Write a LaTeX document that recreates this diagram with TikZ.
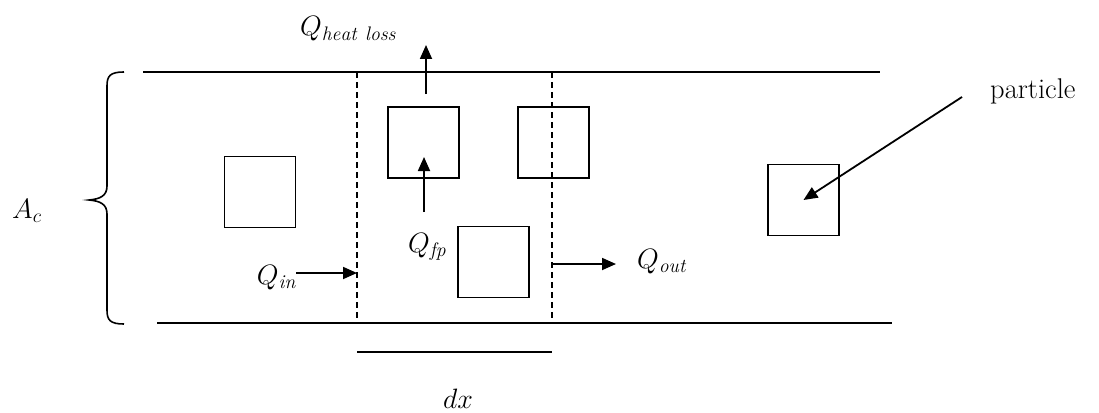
\RequirePackage{fix-cm}
\documentclass[tikz,border=0pt]{standalone}
\usepackage{fontspec}
\usepackage{graphicx}
\usetikzlibrary{arrows.meta}
\begin{document}
\begin{tikzpicture}[x=1pt,y=-1pt,
  wall/.style={line width=1.6pt},
  cut/.style={line width=1.4pt,dash pattern=on 6pt off 4pt},
  box/.style={draw,line width=1.5pt,minimum width=71pt,minimum height=71pt,inner sep=0pt},
  flow/.style={line width=1.8pt,-{Triangle[length=14pt,width=12pt]}},
  lab/.style={inner sep=0pt,font=\fontsize{28}{32}\selectfont},
  txt/.style={inner sep=0pt,font=\fontsize{17.28}{20}\selectfont}]
\useasboundingbox (0,0) rectangle (1099,412);
% channel walls
\coordinate (tl) at (143,72); \coordinate (tr) at (880,72);
\coordinate (bl) at (157,323); \coordinate (br) at (892,323);
\draw[wall] (tl) -- (tr);
\draw[wall] (bl) -- (br);
% brace
\draw[line width=1.6pt] (124,72) .. controls (110,72) and (107,76) .. (107,86)
  -- (107,186) .. controls (107,196) and (100,199) .. (89,200)
  .. controls (100,201) and (107,204) .. (107,214)
  -- (107,310) .. controls (107,320) and (110,324) .. (124,324);
\node[lab,anchor=base west] (ac) at (12,218) {$A_c$};
% control volume
\coordinate (d1t) at (357,72); \coordinate (d1b) at (357,323);
\coordinate (d2t) at (552,72); \coordinate (d2b) at (552,323);
\draw[cut] (d1t) -- (d1b);
\draw[cut] (d2t) -- (d2b);
% particles
\node[box] (p1) at (260,192) {};
\node[box] (p2) at (423.5,142.5) {};
\node[box] (p3) at (553.5,142.5) {};
\node[box] (p4) at (493.5,262) {};
\node[box] (p5) at (803.5,200) {};
% heat loss
\coordinate (hl0) at (426,94); \coordinate (hl1) at (426,45);
\draw[flow] (hl0) -- (hl1);
\node[lab,anchor=base west] (qhl) at (300,36) {$Q_{\mathit{heat\ loss}}$};
% Q_fp
\coordinate (fp0) at (424,212); \coordinate (fp1) at (424,157);
\draw[flow] (fp0) -- (fp1);
\node[lab,anchor=base west] (qfp) at (408,252) {$Q_{\mathit{fp}}$};
% Q_in
\node[lab,anchor=base east] (qin) at (296,284) {$Q_{\mathit{in}}$};
\coordinate (in1) at (357,273);
\draw[flow] (qin.east |- in1) -- (in1);
% Q_out
\coordinate (out0) at (552,264); \coordinate (out1) at (616,264);
\draw[flow] (out0) -- (out1);
\node[lab,anchor=base west] (qout) at (637,268) {$Q_{\mathit{out}}$};
% particle label
\node[txt,anchor=base west] (pl) at (990,98) {\scalebox{1.65}{particle}};
\coordinate (pa) at (962,97);
\draw[flow] (pa) -- (p5.center);
% dx
\coordinate (dx0) at (357,352); \coordinate (dx1) at (552,352);
\draw[line width=1.6pt] (dx0) -- (dx1);
\node[lab,anchor=base west] (dx) at (443,408) {$dx$};
\end{tikzpicture}
\end{document}
